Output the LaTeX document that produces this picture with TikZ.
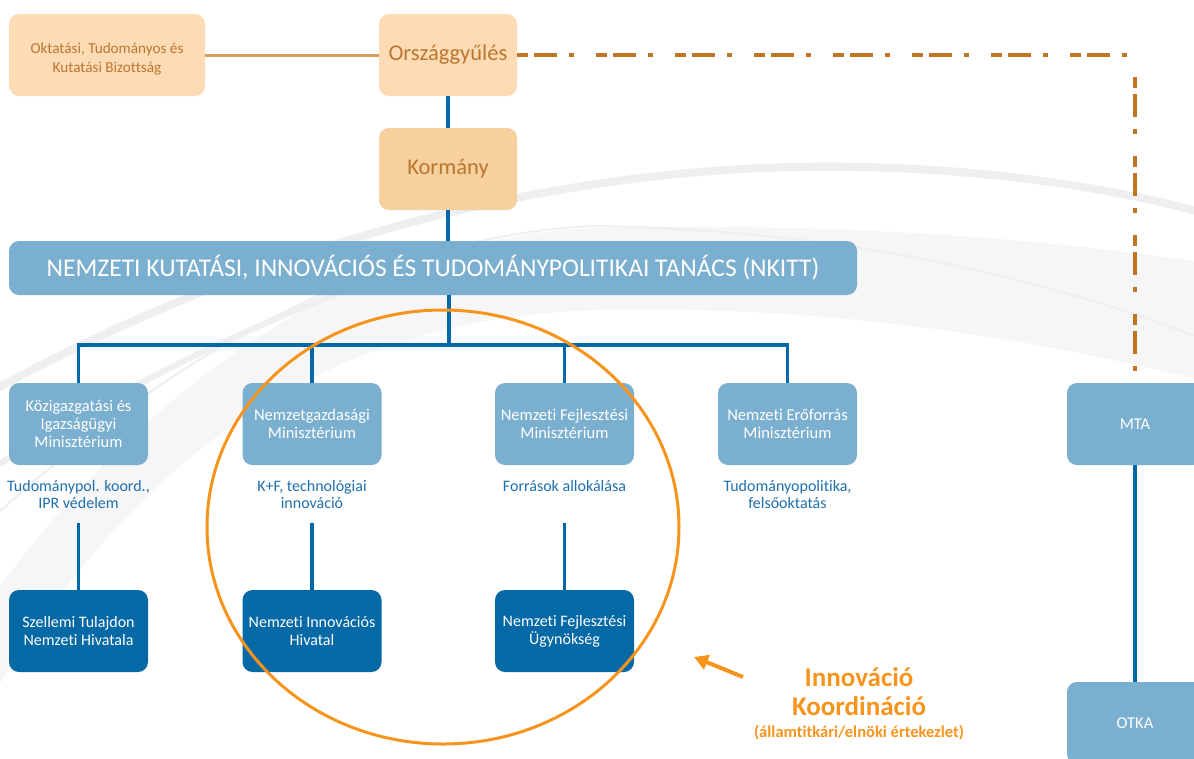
\documentclass[tikz,border=0pt]{standalone}
\usepackage{fontspec}
\setmainfont{Carlito}[Ligatures=NoCommon]
\usetikzlibrary{arrows.meta}
\definecolor{peachA}{HTML}{FDDCB5}
\definecolor{peachB}{HTML}{F6D09D}
\definecolor{brownTxt}{HTML}{BA7630}
\definecolor{tanLine}{HTML}{D29E62}
\definecolor{dashCol}{HTML}{C0761E}
\definecolor{lightBlue}{HTML}{7BAFCF}
\definecolor{darkBlue}{HTML}{0569A6}
\definecolor{lineBlue}{HTML}{0068A8}
\definecolor{descBlue}{HTML}{1F70AE}
\definecolor{orangeC}{HTML}{F7941D}
\definecolor{swA}{HTML}{EEEFF0}
\definecolor{swB}{HTML}{F6F6F7}
\tikzset{
  box/.style={rectangle, rounded corners=10pt, inner sep=2pt, align=center},
  orgbox/.style={box, fill=peachA, text=brownTxt, minimum height=82pt},
  minbox/.style={box, fill=lightBlue, text=white, minimum width=139pt, minimum height=82pt, font=\fontsize{16.5}{18}\selectfont},
  agbox/.style={box, fill=darkBlue, text=white, minimum width=139pt, minimum height=82pt, font=\fontsize{16}{18}\selectfont},
  desc/.style={text=descBlue, align=center, inner sep=0pt, font=\fontsize{16}{17}\selectfont},
  bline/.style={draw=lineBlue, line width=3.5pt},
  dashline/.style={draw=dashCol, line width=4pt, dash pattern=on 11pt off 6pt on 23pt off 12pt on 5pt off 22pt},
  ktext/.style={text=orangeC, inner sep=0pt},
}
\begin{document}
\begin{tikzpicture}[x=1pt,y=-1pt]
\useasboundingbox (0,0) rectangle (1194,758);
\fill[white] (0,0) rectangle (1194,758);
% background swooshes
\fill[swB] (-10,600) .. controls (150,380) and (350,240) .. (594,228) .. controls (850,222) and (1050,240) .. (1200,262)
  -- (1200,380) .. controls (1000,330) and (800,305) .. (594,310) .. controls (350,318) and (150,430) .. (-10,700) -- cycle;
\draw[swA, line width=2pt] (-10,520) .. controls (200,330) and (400,235) .. (594,226) .. controls (850,230) and (1050,280) .. (1200,338);
\draw[swA, line width=8pt] (-10,392) .. controls (250,250) and (550,160) .. (862,167) .. controls (1000,170) and (1120,190) .. (1200,212);
\draw[swA, line width=6pt] (-10,470) .. controls (100,400) and (250,320) .. (430,260);

% nodes
\node[orgbox, minimum width=196pt] (okt) at (107,55) {};
\node[text=brownTxt, align=center, inner sep=0pt, font=\fontsize{15.2}{19.5}\selectfont] (oktlbl) at ([yshift=-4pt]okt.center) {Oktatási, Tudományos és\\Kutatási Bizottság};
\node[orgbox, minimum width=138pt, font=\fontsize{22.5}{24}\selectfont] (orsz) at (448,55) {Országgyűlés};
\node[orgbox, fill=peachB, minimum width=138pt, font=\fontsize{22.5}{24}\selectfont] (korm) at (448,169) {Kormány};
\node[box, fill=lightBlue, text=white, minimum width=848pt, minimum height=54pt, font=\fontsize{25.5}{28}\selectfont] (nkitt) at (433,268) {NEMZETI KUTATÁSI, INNOVÁCIÓS ÉS TUDOMÁNYPOLITIKAI TANÁCS (NKITT)};

\node[minbox] (m1) at (78.5,424) {Közigazgatási és\\Igazságügyi\\Minisztérium};
\node[minbox] (m2) at (312,424) {Nemzetgazdasági\\Minisztérium};
\node[minbox] (m3) at (564.5,424) {Nemzeti Fejlesztési\\Minisztérium};
\node[minbox] (m4) at (787.5,424) {Nemzeti Erőforrás\\Minisztérium};
\node[minbox, minimum width=136pt] (mta) at (1135,424) {MTA};
\node[minbox, minimum width=136pt] (otka) at (1135,723) {OTKA};

\node[desc] (d1) at (78.5,494) {Tudománypol. koord.,\\IPR védelem};
\node[desc] (d2) at (312,494) {K+F, technológiai\\innováció};
\node[desc] (d3) at (564.5,486) {Források allokálása};
\node[desc] (d4) at (787.5,494) {Tudományopolitika,\\felsőoktatás};

\node[agbox] (a1) at (78.5,631) {Szellemi Tulajdon\\Nemzeti Hivatala};
\node[agbox] (a2) at (312,631) {Nemzeti Innovációs\\Hivatal};
\node[agbox] (a3) at (564.5,631) {Nemzeti Fejlesztési\\Ügynökség};

% connectors
\draw[tanLine, line width=3pt] (okt.east) -- (orsz.west);
\draw[bline] (orsz.south) -- (korm.north);
\draw[bline] (korm.south) -- (korm.south |- nkitt.north);
\coordinate (bus) at (449,345);
\draw[bline] (nkitt.south -| bus) -- (bus);
\draw[bline] (m1.north) -- (m1.north |- bus) -- (m4.north |- bus) -- (m4.north);
\draw[bline] (m2.north) -- (m2.north |- bus);
\draw[bline] (m3.north) -- (m3.north |- bus);
\coordinate (t1) at (78.5,523);
\coordinate (t2) at (312,523);
\coordinate (t3) at (564.5,523);
\draw[bline] (t1) -- (a1.north);
\draw[bline] (t2) -- (a2.north);
\draw[bline] (t3) -- (a3.north);
\draw[bline] (mta.south) -- (otka.north);

\coordinate (corner) at (1135,55);
\coordinate (cstart) at (1135,77);
\coordinate (mtatop) at (1135,373);
\draw[dashline] (orsz.east) -- (corner);
\draw[dashline] (cstart) -- (mtatop);

% innovation coordination
\draw[orangeC, line width=3pt] (443,527) ellipse [x radius=236, y radius=217];
\node[ktext, font=\fontsize{27}{30}\bfseries\selectfont] (ik1) at (859,677) {Innováció};
\node[ktext, font=\fontsize{27}{30}\bfseries\selectfont] (ik2) at (859,706) {Koordináció};
\node[ktext, font=\fontsize{16.5}{18}\bfseries\selectfont] (ik3) at (859,733) {(államtitkári/elnöki értekezlet)};
\coordinate (atail) at (743,677);
\coordinate (ahead) at (694,657);
\draw[orangeC, line width=4pt, -{Triangle[length=14pt,width=15pt]}] (atail) -- (ahead);
\end{tikzpicture}
\end{document}
